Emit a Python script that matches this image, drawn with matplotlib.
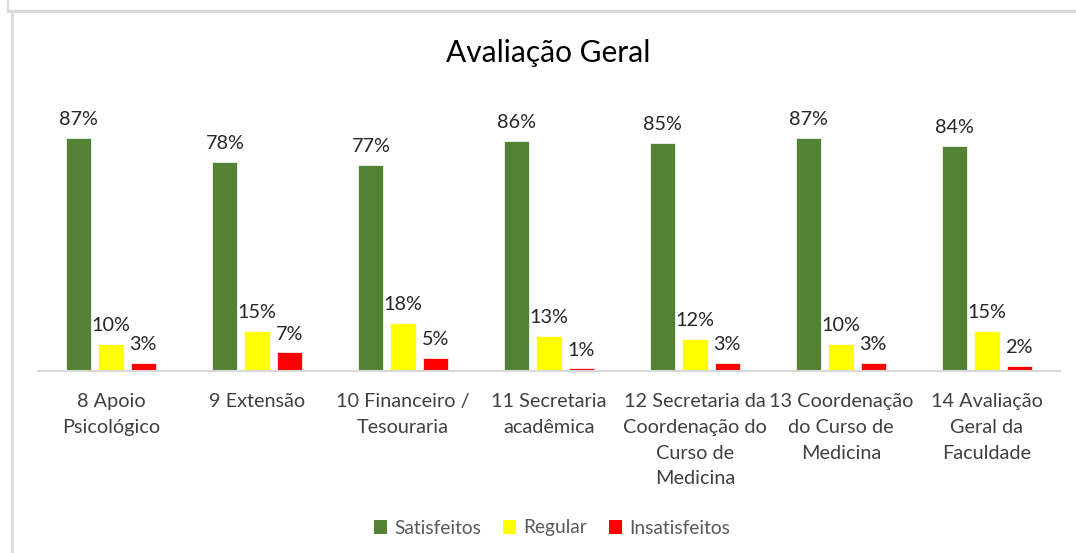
import numpy as np
import matplotlib
matplotlib.use("Agg")
import matplotlib.pyplot as plt
from matplotlib.lines import Line2D
from matplotlib.patches import Patch

# Dados da avaliação (em %)
categorias = [
    "8 Apoio\nPsicológico",
    "9 Extensão",
    "10 Financeiro /\nTesouraria",
    "11 Secretaria\nacadêmica",
    "12 Secretaria da\nCoordenação do\nCurso de\nMedicina",
    "13 Coordenação\ndo Curso de\nMedicina",
    "14 Avaliação\nGeral da\nFaculdade",
]
satisfeitos = [87, 78, 77, 86, 85, 87, 84]
regular = [10, 15, 18, 13, 12, 10, 15]
insatisfeitos = [3, 7, 5, 1, 3, 3, 2]

series = ["Satisfeitos", "Regular", "Insatisfeitos"]
cores = ["#548235", "#FFFF00", "#FF0000"]

plt.rcParams['font.family'] = ['Lato', 'DejaVu Sans']

W, H = 1076, 553
fig = plt.figure(figsize=(W / 100, H / 100), dpi=100)

# eixo em coordenadas de pixel
esq, dir_, base, topo = 38, 1060, 371, 103
ax = fig.add_axes([esq / W, 1 - base / H, (dir_ - esq) / W, (base - topo) / H])

x = np.arange(len(categorias))
largura = 0.172
desloc = 0.22
for i, (valores, cor) in enumerate(zip([satisfeitos, regular, insatisfeitos], cores)):
    pos = x + (i - 1) * desloc
    barras = ax.bar(pos, valores, width=largura, color=cor, edgecolor='white', linewidth=0.5)
    for b, v in zip(barras, valores):
        ax.annotate(f"{v}%", (b.get_x() + b.get_width() / 2, v),
                    xytext=(0, 7), textcoords='offset points',
                    ha='center', va='bottom', fontsize=14.3, color='#262626')

ax.set_xlim(-0.5, len(categorias) - 0.5)
ax.set_ylim(0, 100)
ax.set_yticks([])
ax.set_xticks(x)
ax.set_xticklabels(categorias, fontsize=14.3, color='#404040', linespacing=1.62, va='top')
ax.tick_params(axis='x', length=0, pad=16)
for lado in ['top', 'right', 'left']:
    ax.spines[lado].set_visible(False)
ax.spines['bottom'].set_color('#d9d9d9')
ax.spines['bottom'].set_linewidth(1.5)

fig.text(548 / W, 1 - 53 / H, "Avaliação Geral", ha='center', va='center',
         fontsize=21.5, color='#000000')

handles = [Patch(facecolor=c, edgecolor='none') for c in cores]
fig.legend(handles, series, loc='center', bbox_to_anchor=(552 / W, 1 - 528 / H),
           ncol=3, frameon=False, fontsize=13.8, labelcolor='#595959',
           handlelength=0.7, handleheight=0.7, handletextpad=0.4, columnspacing=1.1)

# moldura cinza (recorte da planilha)
fig.add_artist(Line2D([8 / W, 1], [1 - 11 / H, 1 - 11 / H], color='#d9d9d9', lw=2.5,
                      transform=fig.transFigure))
fig.add_artist(Line2D([12 / W, 12 / W], [0, 1 - 13 / H], color='#d9d9d9', lw=2,
                      transform=fig.transFigure))
fig.add_artist(Line2D([8 / W, 8 / W], [1 - 10 / H, 1], color='#d9d9d9', lw=1.5,
                      transform=fig.transFigure))

fig.savefig("out.png", dpi=100)
